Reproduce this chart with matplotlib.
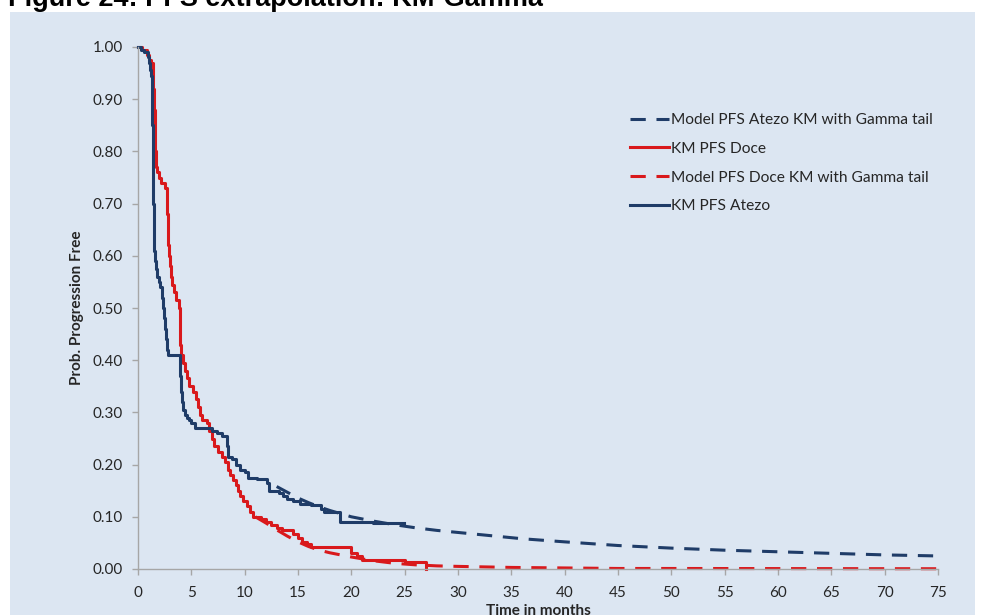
import matplotlib
matplotlib.use("Agg")
import matplotlib.pyplot as plt
from matplotlib.patches import Rectangle

# Kaplan-Meier PFS, atezolizumab arm (months, survival)
atezo_km_t = [0, 0.3, 0.6, 0.9, 1.0, 1.1, 1.2, 1.3, 1.33, 1.36, 1.4, 1.43, 1.46, 1.5,
              1.6, 1.7, 1.8, 1.95, 2.1, 2.25, 2.35, 2.45, 2.55, 2.65, 2.75, 2.85,
              3.9, 3.95, 4.0, 4.1, 4.2, 4.4, 4.6, 4.8, 5.0, 5.3, 6.9, 7.4, 7.9,
              8.3, 8.4, 8.8, 9.2, 9.6, 10.0, 10.3, 11.2, 12.1, 12.3, 13.2, 13.6,
              14.0, 14.5, 15.2, 16.2, 17.2, 17.4, 18.9, 22.0, 24.9]
atezo_km_s = [1.00, 0.995, 0.99, 0.98, 0.97, 0.955, 0.945, 0.90, 0.85, 0.80, 0.75, 0.70, 0.65, 0.61,
              0.59, 0.575, 0.56, 0.55, 0.54, 0.52, 0.50, 0.48, 0.46, 0.44, 0.42, 0.41,
              0.40, 0.37, 0.34, 0.32, 0.305, 0.295, 0.29, 0.285, 0.28, 0.27, 0.265, 0.26, 0.255,
              0.235, 0.215, 0.21, 0.20, 0.19, 0.185, 0.175, 0.172, 0.165, 0.15, 0.145, 0.14,
              0.135, 0.13, 0.125, 0.122, 0.115, 0.11, 0.09, 0.088, 0.088]

# Kaplan-Meier PFS, docetaxel arm
doce_km_t = [0, 0.4, 0.8, 1.0, 1.2, 1.4, 1.45, 1.5, 1.55, 1.6, 1.65, 1.75, 2.0, 2.2, 2.5,
             2.7, 2.75, 2.8, 2.85, 2.9, 3.0, 3.1, 3.2, 3.4, 3.6, 3.8, 3.9, 3.95, 4.0,
             4.2, 4.4, 4.6, 4.8, 5.2, 5.4, 5.6, 5.8, 6.0, 6.5, 6.7, 6.9, 7.1, 7.5, 7.9,
             8.2, 8.4, 8.6, 8.9, 9.2, 9.4, 9.6, 9.8, 10.2, 10.5, 10.8, 11.5, 12.0, 12.5,
             13.0, 13.5, 14.5, 15.0, 15.4, 15.8, 16.2, 20.0, 20.5, 21.0, 25.0, 27.0, 27.0]
doce_km_s = [1.00, 0.995, 0.985, 0.975, 0.97, 0.95, 0.92, 0.88, 0.84, 0.80, 0.77, 0.76, 0.75, 0.74, 0.73,
             0.71, 0.68, 0.65, 0.62, 0.60, 0.58, 0.56, 0.545, 0.53, 0.515, 0.50, 0.46, 0.43, 0.41,
             0.395, 0.38, 0.365, 0.35, 0.34, 0.325, 0.31, 0.295, 0.285, 0.28, 0.265, 0.25, 0.235, 0.225, 0.215,
             0.205, 0.19, 0.18, 0.17, 0.16, 0.15, 0.14, 0.13, 0.12, 0.11, 0.10, 0.095, 0.09, 0.085,
             0.078, 0.075, 0.068, 0.06, 0.052, 0.047, 0.043, 0.03, 0.025, 0.017, 0.014, 0.014, 0.0]

# Model curves: KM with Gamma tail (after the KM part)
atezo_mod_t = [13, 14, 15, 16, 17, 18, 19, 20, 22, 24, 26, 28, 30, 33, 36, 40, 45, 50, 55, 60, 65, 70, 75]
atezo_mod_s = [0.158, 0.147, 0.136, 0.127, 0.119, 0.112, 0.106, 0.100, 0.092, 0.085, 0.079, 0.074,
               0.070, 0.064, 0.058, 0.052, 0.045, 0.040, 0.036, 0.033, 0.030, 0.027, 0.025]
doce_mod_t = [11, 12, 13, 14, 15, 16, 17, 18, 19, 20, 22, 24, 26, 28, 30, 35, 40, 45, 50, 60, 75]
doce_mod_s = [0.10, 0.088, 0.075, 0.063, 0.052, 0.043, 0.036, 0.031, 0.027, 0.023, 0.016, 0.011,
              0.008, 0.006, 0.005, 0.003, 0.002, 0.001, 0.001, 0.0008, 0.0005]

navy = "#1f3c68"
red = "#d9191c"
panel = "#dce6f2"
txt = "#262626"

fig = plt.figure(figsize=(9.81, 6.15), dpi=100)
fig.patch.set_facecolor("white")
fig.patches.append(Rectangle((10 / 981, 0), 965 / 981, 603 / 615, transform=fig.transFigure,
                             facecolor=panel, edgecolor="none", zorder=-5))

fig.text(8 / 981, 1 - 6 / 615, "Figure 24: PFS extrapolation: KM-Gamma",
         fontsize=19.5, fontweight="bold", family="Liberation Sans", va="baseline", ha="left")

ax = fig.add_axes([138 / 981, 46 / 615, 800 / 981, 522 / 615])
ax.set_facecolor("none")

dash = (5, 3.5)
l1, = ax.plot(atezo_mod_t, atezo_mod_s, color=navy, lw=2.2, ls=(0, dash),
              label="Model PFS Atezo KM with Gamma tail")
l2, = ax.plot(doce_km_t, doce_km_s, color=red, lw=2.2, drawstyle="steps-post", label="KM PFS Doce")
l3, = ax.plot(doce_mod_t, doce_mod_s, color=red, lw=2.2, ls=(0, dash),
              label="Model PFS Doce KM with Gamma tail")
l4, = ax.plot(atezo_km_t, atezo_km_s, color=navy, lw=2.2, drawstyle="steps-post", label="KM PFS Atezo")

ax.set_xlim(0, 75)
ax.set_ylim(0, 1.0)
ax.set_xticks(range(0, 80, 5))
ax.set_yticks([i / 10 for i in range(11)])
ax.set_yticklabels([f"{i / 10:.2f}" for i in range(11)])
for l in (l1, l2, l3, l4):
    l.set_clip_on(False)

for s in ("top", "right"):
    ax.spines[s].set_visible(False)
for s in ("left", "bottom"):
    ax.spines[s].set_color("#a6a6a6")
    ax.spines[s].set_linewidth(1)
ax.tick_params(colors="#a6a6a6", length=4, width=1, labelcolor=txt, labelsize=11)
for lab in ax.get_xticklabels() + ax.get_yticklabels():
    lab.set_family("Lato")
ax.tick_params(axis="x", pad=8)
ax.tick_params(axis="y", pad=7)

ax.set_xlabel("Time in months", fontsize=11, fontweight="bold", family="Lato", color=txt, labelpad=3)
ax.set_ylabel("Prob. Progression Free", fontsize=11, fontweight="bold", family="Lato", color=txt,
              labelpad=6)

leg = ax.legend(loc="upper left", bbox_to_anchor=(616 / 981, 1 - 99 / 615),
                bbox_transform=fig.transFigure, frameon=False, handlelength=2.5,
                handletextpad=0.15, labelspacing=0.95, prop={"family": "Lato", "size": 11.2})
for t in leg.get_texts():
    t.set_color(txt)

fig.savefig("out.png", dpi=100, facecolor=fig.get_facecolor())
